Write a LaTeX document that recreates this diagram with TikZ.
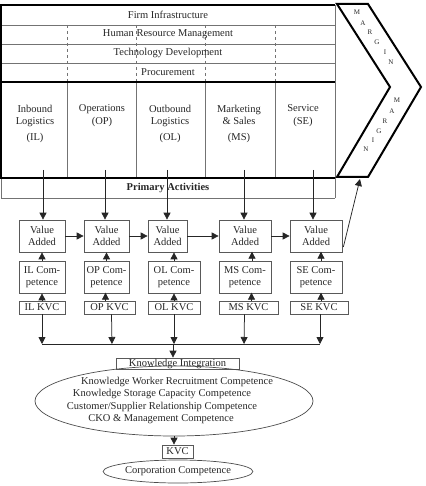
\documentclass[tikz,border=0pt]{standalone}
\usepackage{fontspec}
\setmainfont{Liberation Serif}
\usetikzlibrary{arrows.meta,shapes.geometric}

\begin{document}
\begin{tikzpicture}[x=1pt,y=-1pt,>={Triangle[length=7pt,width=7pt]},
  every node/.style={font=\fontsize{10.5}{12.5}\selectfont, text=black!85},
  box/.style={draw=black!65, line width=0.7pt, inner sep=0pt, align=center, minimum height=32pt},
  kvcbox/.style={draw=black!65, line width=0.7pt, inner sep=0pt, minimum height=13pt},
  rowline/.style={black!55, line width=0.6pt},
  mainline/.style={black, line width=1.6pt},
  conn/.style={->, black!85, line width=0.75pt},
  letter/.style={font=\fontsize{7}{8}\selectfont, inner sep=0pt}]
\useasboundingbox (0,0) rectangle (425,486);
% support activities
\draw[rowline] (1,25) -- (335,25);
\draw[rowline] (1,44) -- (335,44);
\draw[rowline] (1,63) -- (335,63);
\draw[rowline, dashed] (67,25) -- (67,82);
\draw[rowline, dashed] (136,25) -- (136,82);
\draw[rowline, dashed] (205,25) -- (205,82);
\draw[rowline, dashed] (275,25) -- (275,82);
\draw[rowline] (67,82) -- (67,178);
\draw[rowline] (136,82) -- (136,178);
\draw[rowline] (205,82) -- (205,178);
\draw[rowline] (275,82) -- (275,178);
\draw[rowline] (335,5) -- (335,198);
\draw[rowline] (1,178) -- (1,198) -- (335,198);
\draw[mainline] (335,5) -- (1,5) -- (1,178) -- (335,178);
\draw[mainline] (1,82) -- (335,82);
\node (fi) at (168,15) {Firm Infrastructure};
\node (hrm) at (168,34) {Human Resource Management};
\node (td) at (168,53) {Technology Development};
\node (proc) at (168,72) {Procurement};
% primary activities
\node[align=center] (il) at (35,123.5) {Inbound\\Logistics\\[3pt](IL)};
\node[align=center] (op) at (102,115.5) {Operations\\(OP)};
\node[align=center] (ol) at (170,123.5) {Outbound\\Logistics\\[3pt](OL)};
\node[align=center] (ms) at (239,123.5) {Marketing\\\& Sales\\[3pt](MS)};
\node[align=center] (se) at (303,115.5) {Service\\(SE)};
\node (pa) at (168,188) {\textbf{Primary Activities}};
% margin
\draw[black, line width=2pt, line join=miter] (337,4) -- (368,4) -- (421,87) -- (368,177) -- (337,177) -- (390,87) -- cycle;
\node[letter] (m1) at (357,12) {M};
\node[letter] (m2) at (363,23) {A};
\node[letter] (m3) at (370,32) {R};
\node[letter] (m4) at (377,42) {G};
\node[letter] (m5) at (385,52) {I};
\node[letter] (m6) at (391,62) {N};
\node[letter] (n1) at (397,100) {M};
\node[letter] (n2) at (392,111) {A};
\node[letter] (n3) at (385,121) {R};
\node[letter] (n4) at (379,131) {G};
\node[letter] (n5) at (373,140) {I};
\node[letter] (n6) at (366,149) {N};
\coordinate (mtip) at (360,179);
% value added chain
\node[box, minimum width=46pt] (va1) at (42,236) {Value\\Added};
\node[box, minimum width=45pt] (va2) at (106.5,236) {Value\\Added};
\node[box, minimum width=39pt] (va3) at (167.5,236) {Value\\Added};
\node[box, minimum width=52pt] (va4) at (245,236) {Value\\Added};
\node[box, minimum width=52pt] (va5) at (316,236) {Value\\Added};
\node[box, minimum width=46pt] (comp1) at (42,277) {IL Com-\\petence};
\node[box, minimum width=45pt] (comp2) at (106.5,277) {OP Com-\\petence};
\node[box, minimum width=52pt] (comp3) at (174,277) {OL Com-\\petence};
\node[box, minimum width=52pt] (comp4) at (245,277) {MS Com-\\petence};
\node[box, minimum width=52pt] (comp5) at (316,277) {SE Com-\\petence};
\node[kvcbox, minimum width=46pt] (kvc1) at (42,307.5) {IL KVC};
\node[kvcbox, minimum width=51pt] (kvc2) at (109.5,307.5) {OP KVC};
\node[kvcbox, minimum width=52pt] (kvc3) at (174,307.5) {OL KVC};
\node[kvcbox, minimum width=59pt] (kvc4) at (248.5,307.5) {MS KVC};
\node[kvcbox, minimum width=58pt] (kvc5) at (319,307.5) {SE KVC};
\coordinate (p1) at (43,170);
\coordinate (p2) at (105,170);
\coordinate (p3) at (167,170);
\coordinate (p4) at (244,170);
\coordinate (p5) at (313,170);
\draw[conn] (p1) -- (p1 |- va1.north);
\draw[conn] (p2) -- (p2 |- va2.north);
\draw[conn] (p3) -- (p3 |- va3.north);
\draw[conn] (p4) -- (p4 |- va4.north);
\draw[conn] (p5) -- (p5 |- va5.north);
\draw[conn] (va1) -- (va2);
\draw[conn] (va2) -- (va3);
\draw[conn] (va3) -- (va4);
\draw[conn] (va4) -- (va5);
\draw[conn] (va5.east) ++(1,11) -- (mtip);
\draw[conn] (comp1.north) -- (va1.south);
\draw[conn] (comp2.north) -- (va2.south);
\draw[conn] (comp3.north) -- (comp3.north |- va3.south);
\draw[conn] (comp4.north) ++(7,0) -- ++(0,-9);
\draw[conn] (comp5.north) ++(5,0) -- ++(0,-9);
\draw[conn] (kvc1.north) -- (kvc1.north |- comp1.south);
\draw[conn] (kvc2.north) ++(-4,0) -- ++(0,-8);
\draw[conn] (kvc3.north) -- (kvc3.north |- comp3.south);
\draw[conn] (kvc4.north) ++(3,0) -- ++(0,-8);
\draw[conn] (kvc5.north) ++(2,0) -- ++(0,-8);
% knowledge integration
\coordinate (bus) at (173,344);
\draw[conn] (kvc1.south) -- (kvc1.south |- bus);
\draw[conn] (kvc2.south) ++(2,0) -- (112,344);
\draw[conn] (kvc3.south) -- (kvc3.south |- bus);
\draw[conn] (kvc4.south) ++(-4,0) -- (244,344);
\draw[conn] (kvc5.south) ++(1,0) -- (320,344);
\draw[black!85, line width=0.75pt] (kvc1.south |- bus) -- (320,344);
\node[kvcbox, minimum width=123pt, minimum height=11pt] (ki) at (177.5,363.5) {Knowledge Integration};
\draw[conn] (bus) -- (bus |- ki.north);
\node[ellipse, draw=black!70, line width=0.7pt, minimum width=278pt, minimum height=70pt, inner sep=0pt] (kw) at (174,401) {};
\node (t1) at (177,382) {Knowledge Worker Recruitment Competence};
\node (t2) at (162,394) {Knowledge Storage Capacity Competence};
\node (t3) at (162,406.5) {Customer/Supplier Relationship Competence};
\node (t4) at (161,419) {CKO \& Management Competence};
\node[kvcbox, minimum width=31pt] (kvc) at (177.5,451.5) {KVC};
\draw[conn] (kw.south) -- (kw.south |- kvc.north);
\node[ellipse, draw=black!70, line width=0.7pt, fill=white, minimum width=146pt, minimum height=23pt, inner sep=0pt] (cc) at (178,471.5) {Corporation Competence};
\end{tikzpicture}
\end{document}
